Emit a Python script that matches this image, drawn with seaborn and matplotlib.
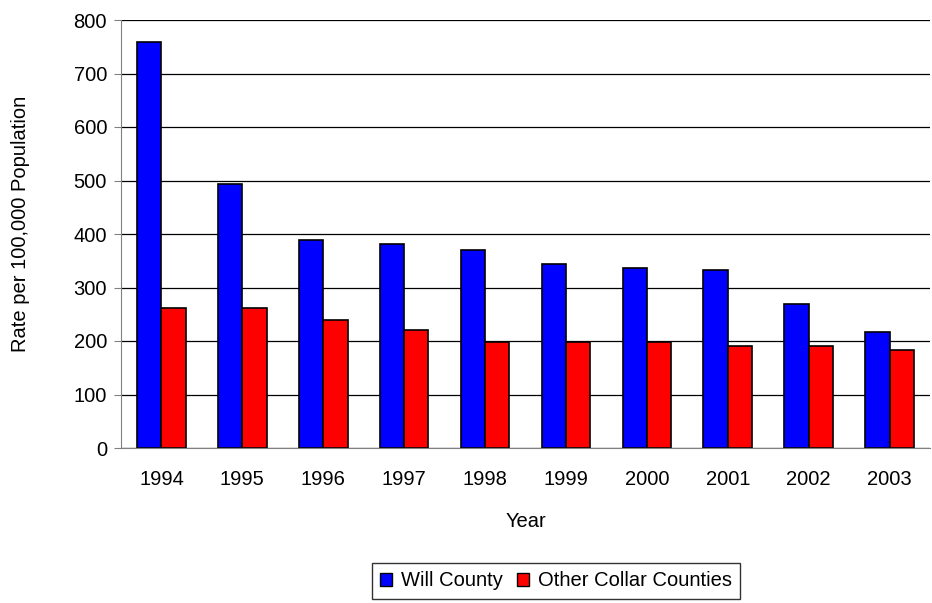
import matplotlib
matplotlib.use("Agg")
import matplotlib.pyplot as plt
import seaborn as sns
import pandas as pd
import numpy as np
from matplotlib.patches import Patch

years = ["1994", "1995", "1996", "1997", "1998", "1999", "2000", "2001", "2002", "2003"]
will_county = [759, 494, 389, 381, 371, 344, 337, 333, 269, 217]
other_collar = [262, 262, 239, 221, 198, 198, 198, 191, 191, 183]
series_names = ["Will County", "Other Collar Counties"]
y_ticks = [0, 100, 200, 300, 400, 500, 600, 700, 800]

df = pd.DataFrame({
    "Year": years * 2,
    "Rate": will_county + other_collar,
    "Series": [series_names[0]] * len(years) + [series_names[1]] * len(years),
})

sns.set_style("white")
plt.rcParams['font.family'] = ['Liberation Sans', 'DejaVu Sans']
FS = 14.5
plt.rcParams['font.size'] = FS
for k in ["text.color", "axes.labelcolor", "xtick.color", "ytick.color"]:
    plt.rcParams[k] = "black"

fig = plt.figure(figsize=(9.32, 6.03), dpi=100)
ax = fig.add_axes([121 / 932, 1 - 448 / 603, (930 - 121) / 932, (448 - 20) / 603])

colors = ["#0000FF", "#FF0000"]
sns.barplot(data=df, x="Year", y="Rate", hue="Series", palette=colors,
            width=0.6, edgecolor="black", linewidth=1.2, ax=ax, legend=False,
            saturation=1)

ax.set_ylim(0, 800)
ax.set_xlim(-0.5, 9.5)
ax.set_yticks(y_ticks)
ax.yaxis.grid(True, color="black", linewidth=0.9)
ax.set_axisbelow(True)
for s in ["top", "right"]:
    ax.spines[s].set_visible(False)
ax.spines["left"].set_color("#808080")
ax.spines["bottom"].set_color("#808080")

ax.set_xticks(np.arange(len(years)))
ax.set_xticklabels(years)
ax.set_xticks(np.arange(-0.5, len(years) + 0.5, 1), minor=True)
ax.tick_params(axis="x", which="major", length=0, pad=16, labelsize=FS)
ax.tick_params(axis="x", which="minor", length=5, color="#808080", direction="out")
ax.tick_params(axis="y", length=5, color="#808080", direction="out", labelsize=FS, left=True, pad=5)

ax.set_xlabel("Year", fontsize=FS)
ax.xaxis.set_label_coords(0.5, -(512 - 448) / (448 - 20))
ax.set_ylabel("Rate per 100,000 Population", fontsize=FS)
ax.yaxis.set_label_coords(-(121 - 30) / (930 - 121), 0.5 + 10 / 428)

handles = [Patch(facecolor=c, edgecolor="black", label=n) for c, n in zip(colors, series_names)]
leg = fig.legend(handles=handles, loc="center", bbox_to_anchor=(556 / 932, 1 - 581 / 603),
                 ncol=2, frameon=True, fancybox=False, fontsize=FS,
                 handlelength=0.6, handleheight=0.6, handletextpad=0.45,
                 columnspacing=0.7, borderpad=0.4, borderaxespad=0)
leg.get_frame().set_edgecolor("black")
leg.get_frame().set_linewidth(1.0)

fig.savefig("out.png", dpi=100)
